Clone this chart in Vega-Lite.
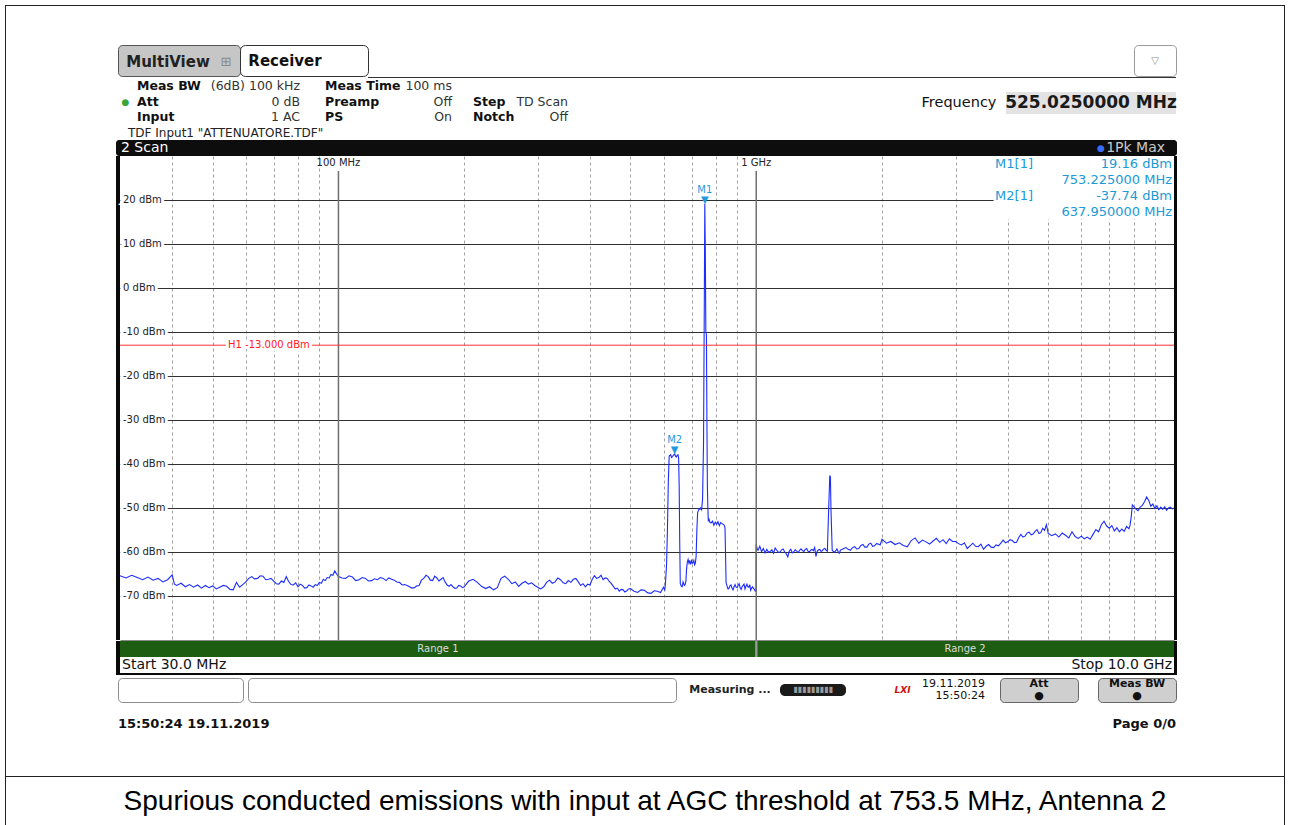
{
"$schema":"https://vega.github.io/schema/vega-lite/v6.json",
"background":"white",
"padding":{"left":5,"top":5,"right":3,"bottom":0},
"autosize":{"type":"pad"},
"config":{"view":{"stroke":null},"font":"DejaVu Sans","concat":{"spacing":0},"text":{"font":"DejaVu Sans"}},
"datasets":{
"trace":[{"f":30,"p":-65.4},{"f":31,"p":-65.9},{"f":32,"p":-65.3},{"f":33,"p":-65.8},{"f":34,"p":-66.3},{"f":35,"p":-65.7},{"f":36,"p":-66.4},{"f":37,"p":-66.0},{"f":38,"p":-66.8},{"f":39,"p":-66.3},{"f":40,"p":-65.2},{"f":40.5,"p":-67.3},{"f":41,"p":-67.6},{"f":42,"p":-67.1},{"f":43,"p":-67.9},{"f":44,"p":-67.4},{"f":45,"p":-68.0},{"f":46,"p":-67.5},{"f":47,"p":-68.2},{"f":48,"p":-67.6},{"f":49,"p":-68.1},{"f":50,"p":-67.7},{"f":51,"p":-68.4},{"f":52,"p":-68.0},{"f":53,"p":-67.6},{"f":54,"p":-67.8},{"f":55,"p":-68.5},{"f":56,"p":-68.6},{"f":57,"p":-66.9},{"f":58,"p":-68.0},{"f":59,"p":-67.4},{"f":60,"p":-66.8},{"f":61,"p":-66.0},{"f":62,"p":-65.6},{"f":63,"p":-66.1},{"f":64,"p":-66.0},{"f":65,"p":-65.4},{"f":66,"p":-65.5},{"f":67,"p":-66.3},{"f":68,"p":-66.2},{"f":69,"p":-66.0},{"f":70,"p":-66.6},{"f":71,"p":-67.2},{"f":72,"p":-67.3},{"f":73,"p":-66.6},{"f":74,"p":-66.9},{"f":75,"p":-65.6},{"f":76,"p":-66.7},{"f":77,"p":-67.4},{"f":78,"p":-67.5},{"f":79,"p":-67.0},{"f":80,"p":-67.9},{"f":81,"p":-67.3},{"f":82,"p":-67.6},{"f":83,"p":-68.2},{"f":84,"p":-68.1},{"f":85,"p":-67.5},{"f":86,"p":-67.7},{"f":87,"p":-68.0},{"f":88,"p":-67.4},{"f":89,"p":-67.6},{"f":90,"p":-66.9},{"f":91,"p":-67.1},{"f":92,"p":-66.2},{"f":93,"p":-66.5},{"f":94,"p":-65.8},{"f":95,"p":-65.9},{"f":96,"p":-65.1},{"f":97,"p":-65.3},{"f":98,"p":-64.3},{"f":99,"p":-65.0},{"f":100,"p":-65.6},
{"f":102,"p":-65.9},{"f":104,"p":-66.0},{"f":106,"p":-65.4},{"f":108,"p":-65.7},{"f":110,"p":-66.5},{"f":112,"p":-66.3},{"f":114,"p":-65.8},{"f":116,"p":-66.0},{"f":118,"p":-66.6},{"f":120,"p":-66.5},{"f":122,"p":-66.1},{"f":124,"p":-66.3},{"f":126,"p":-65.8},{"f":128,"p":-66.0},{"f":130,"p":-66.5},{"f":132,"p":-65.9},{"f":134,"p":-66.2},{"f":136,"p":-66.4},{"f":138,"p":-66.8},{"f":140,"p":-66.9},{"f":142,"p":-67.5},{"f":144,"p":-67.4},{"f":146,"p":-67.6},{"f":148,"p":-67.9},{"f":150,"p":-68.2},{"f":152,"p":-68.1},{"f":154,"p":-67.7},{"f":156,"p":-67.6},{"f":158,"p":-66.4},{"f":160,"p":-66.0},{"f":162,"p":-65.3},{"f":164,"p":-65.6},{"f":166,"p":-66.4},{"f":168,"p":-66.5},{"f":170,"p":-65.5},{"f":172,"p":-65.9},{"f":174,"p":-66.6},{"f":176,"p":-66.2},{"f":178,"p":-65.8},{"f":180,"p":-66.8},{"f":182,"p":-67.5},{"f":184,"p":-67.8},{"f":186,"p":-67.4},{"f":188,"p":-67.9},{"f":190,"p":-68.3},{"f":192,"p":-68.2},{"f":194,"p":-67.6},{"f":196,"p":-67.7},{"f":198,"p":-68.1},{"f":200,"p":-67.9},
{"f":205,"p":-66.6},{"f":210,"p":-66.2},{"f":215,"p":-66.9},{"f":220,"p":-67.8},{"f":225,"p":-68.3},{"f":230,"p":-67.9},{"f":235,"p":-68.6},{"f":240,"p":-68.1},{"f":245,"p":-66.0},{"f":250,"p":-65.5},{"f":255,"p":-66.2},{"f":260,"p":-67.2},{"f":265,"p":-66.8},{"f":270,"p":-67.8},{"f":275,"p":-67.1},{"f":280,"p":-66.7},{"f":285,"p":-67.3},{"f":290,"p":-67.0},{"f":295,"p":-67.6},{"f":300,"p":-68.0},{"f":305,"p":-68.4},{"f":310,"p":-67.9},{"f":315,"p":-66.9},{"f":320,"p":-66.4},{"f":325,"p":-67.1},{"f":330,"p":-66.8},{"f":335,"p":-65.9},{"f":340,"p":-66.3},{"f":345,"p":-67.0},{"f":350,"p":-67.2},{"f":355,"p":-66.5},{"f":360,"p":-66.9},{"f":365,"p":-66.2},{"f":370,"p":-66.0},{"f":375,"p":-66.8},{"f":380,"p":-67.6},{"f":385,"p":-67.2},{"f":390,"p":-67.9},{"f":395,"p":-67.3},{"f":400,"p":-67.5},{"f":405,"p":-66.2},{"f":410,"p":-65.4},{"f":415,"p":-66.0},{"f":420,"p":-65.8},{"f":425,"p":-65.3},{"f":430,"p":-66.3},{"f":435,"p":-65.9},{"f":440,"p":-66.0},{"f":445,"p":-66.7},{"f":450,"p":-67.2},{"f":455,"p":-67.8},{"f":460,"p":-68.4},{"f":465,"p":-68.2},{"f":470,"p":-68.9},{"f":475,"p":-68.5},{"f":480,"p":-68.6},{"f":485,"p":-69.1},{"f":490,"p":-68.8},{"f":495,"p":-68.4},{"f":500,"p":-68.3},
{"f":510,"p":-68.9},{"f":520,"p":-69.2},{"f":530,"p":-68.6},{"f":540,"p":-68.7},{"f":550,"p":-69.3},{"f":560,"p":-69.4},{"f":570,"p":-68.8},{"f":580,"p":-68.9},{"f":590,"p":-69.2},{"f":600,"p":-68.0},{"f":604,"p":-68.6},{"f":606,"p":-67.5},{"f":610,"p":-63.0},{"f":613,"p":-55.0},{"f":616,"p":-44.0},{"f":619,"p":-38.2},{"f":622,"p":-38.0},{"f":624,"p":-37.9},{"f":627,"p":-38.5},{"f":630,"p":-38.3},{"f":634,"p":-38.0},{"f":637.95,"p":-37.74},{"f":641,"p":-38.2},{"f":644,"p":-38.4},{"f":647,"p":-38.0},{"f":650,"p":-37.9},{"f":652,"p":-38.6},{"f":654,"p":-45.0},{"f":656,"p":-58.0},{"f":658,"p":-67.2},{"f":662,"p":-67.8},{"f":665,"p":-67.9},{"f":668,"p":-66.8},{"f":670,"p":-67.1},{"f":673,"p":-67.6},{"f":676,"p":-67.4},{"f":679,"p":-66.5},{"f":681,"p":-64.0},{"f":684,"p":-62.3},{"f":687,"p":-61.7},{"f":690,"p":-62.5},{"f":693,"p":-61.9},{"f":696,"p":-62.8},{"f":700,"p":-62.0},{"f":703,"p":-62.6},{"f":706,"p":-62.4},{"f":709,"p":-61.9},{"f":712,"p":-62.9},{"f":715,"p":-62.5},{"f":718,"p":-61.0},{"f":721,"p":-55.0},{"f":724,"p":-51.0},{"f":727,"p":-50.6},{"f":730,"p":-50.2},{"f":733,"p":-50.3},{"f":736,"p":-50.0},{"f":740,"p":-50.4},{"f":744,"p":-48.0},{"f":748,"p":-35.0},{"f":751,"p":-5.0},{"f":753.225,"p":19.16},{"f":755.5,"p":8.0},{"f":757.5,"p":-10.0},{"f":760,"p":-10.5},{"f":762,"p":-30.0},{"f":764,"p":-45.0},{"f":766,"p":-50.0},{"f":768,"p":-53.0},{"f":771,"p":-52.6},{"f":775,"p":-53.3},{"f":780,"p":-53.4},{"f":786,"p":-53.0},{"f":792,"p":-53.9},{"f":798,"p":-53.2},{"f":804,"p":-53.7},{"f":810,"p":-53.1},{"f":816,"p":-54.0},{"f":822,"p":-53.3},{"f":830,"p":-53.6},{"f":838,"p":-53.9},{"f":842,"p":-54.5},{"f":845,"p":-62.0},{"f":847,"p":-67.0},{"f":852,"p":-67.8},{"f":856,"p":-68.4},{"f":860,"p":-68.3},{"f":865,"p":-67.7},{"f":870,"p":-67.5},{"f":875,"p":-68.2},{"f":880,"p":-68.6},{"f":885,"p":-67.9},{"f":890,"p":-67.4},{"f":895,"p":-68.0},{"f":900,"p":-68.1},{"f":905,"p":-67.6},{"f":910,"p":-67.2},{"f":915,"p":-68.1},{"f":920,"p":-68.5},{"f":925,"p":-67.9},{"f":930,"p":-67.6},{"f":935,"p":-67.3},{"f":940,"p":-68.4},{"f":945,"p":-67.8},{"f":950,"p":-67.3},{"f":955,"p":-67.9},{"f":960,"p":-68.0},{"f":965,"p":-67.4},{"f":970,"p":-68.7},{"f":975,"p":-68.2},{"f":980,"p":-67.9},{"f":985,"p":-68.3},{"f":990,"p":-68.5},{"f":995,"p":-68.9},{"f":999,"p":-68.8},
{"f":1000,"p":-58.3},{"f":1005,"p":-59.2},{"f":1010,"p":-59.6},{"f":1020,"p":-58.7},{"f":1030,"p":-59.9},{"f":1040,"p":-59.2},{"f":1050,"p":-60.2},{"f":1060,"p":-59.4},{"f":1070,"p":-60.0},{"f":1080,"p":-59.9},{"f":1090,"p":-59.5},{"f":1100,"p":-60.3},{"f":1110,"p":-59.1},{"f":1120,"p":-59.6},{"f":1130,"p":-60.1},{"f":1140,"p":-60.0},{"f":1150,"p":-59.5},{"f":1160,"p":-59.3},{"f":1170,"p":-60.0},{"f":1180,"p":-60.4},{"f":1190,"p":-61.1},{"f":1200,"p":-59.8},{"f":1210,"p":-59.4},{"f":1220,"p":-60.2},{"f":1230,"p":-59.9},{"f":1240,"p":-59.5},{"f":1250,"p":-59.8},{"f":1260,"p":-60.1},{"f":1270,"p":-59.6},{"f":1280,"p":-59.3},{"f":1290,"p":-59.7},{"f":1300,"p":-59.9},{"f":1310,"p":-59.4},{"f":1320,"p":-59.2},{"f":1330,"p":-59.8},{"f":1340,"p":-60.0},{"f":1350,"p":-59.6},{"f":1360,"p":-59.4},{"f":1370,"p":-59.7},{"f":1380,"p":-59.0},{"f":1390,"p":-61.0},{"f":1400,"p":-59.8},{"f":1410,"p":-59.5},{"f":1420,"p":-59.4},{"f":1430,"p":-59.9},{"f":1440,"p":-59.7},{"f":1450,"p":-59.3},{"f":1460,"p":-59.2},{"f":1470,"p":-59.6},{"f":1480,"p":-59.8},{"f":1490,"p":-51.0},{"f":1500,"p":-42.6},{"f":1505,"p":-42.9},{"f":1510,"p":-50.5},{"f":1520,"p":-59.6},{"f":1530,"p":-59.9},{"f":1540,"p":-60.0},{"f":1550,"p":-59.7},{"f":1560,"p":-59.3},{"f":1570,"p":-59.9},{"f":1580,"p":-60.3},{"f":1590,"p":-59.6},{"f":1600,"p":-59.5},{"f":1620,"p":-59.2},{"f":1640,"p":-59.0},{"f":1660,"p":-59.4},{"f":1680,"p":-59.6},{"f":1700,"p":-59.0},{"f":1720,"p":-58.8},{"f":1740,"p":-59.3},{"f":1760,"p":-59.2},{"f":1780,"p":-58.5},{"f":1800,"p":-58.3},{"f":1820,"p":-58.9},{"f":1840,"p":-58.9},{"f":1860,"p":-58.2},{"f":1880,"p":-58.0},{"f":1900,"p":-58.7},{"f":1920,"p":-58.6},{"f":1940,"p":-58.1},{"f":1960,"p":-58.2},{"f":1980,"p":-58.4},{"f":2000,"p":-57.1},
{"f":2050,"p":-58.0},{"f":2100,"p":-57.6},{"f":2150,"p":-58.3},{"f":2200,"p":-57.9},{"f":2250,"p":-58.5},{"f":2300,"p":-58.8},{"f":2350,"p":-57.4},{"f":2400,"p":-56.8},{"f":2450,"p":-58.0},{"f":2500,"p":-57.3},{"f":2550,"p":-57.7},{"f":2600,"p":-58.2},{"f":2650,"p":-57.5},{"f":2700,"p":-56.9},{"f":2750,"p":-57.8},{"f":2800,"p":-57.2},{"f":2850,"p":-58.1},{"f":2900,"p":-57.0},{"f":2950,"p":-57.6},{"f":3000,"p":-57.6},{"f":3050,"p":-58.1},{"f":3100,"p":-58.4},{"f":3150,"p":-57.9},{"f":3200,"p":-59.2},{"f":3250,"p":-58.6},{"f":3300,"p":-58.0},{"f":3350,"p":-58.7},{"f":3400,"p":-58.8},{"f":3450,"p":-58.2},{"f":3500,"p":-59.4},{"f":3550,"p":-58.7},{"f":3600,"p":-58.3},{"f":3650,"p":-58.9},{"f":3700,"p":-59.0},{"f":3750,"p":-58.4},{"f":3800,"p":-58.6},{"f":3850,"p":-58.0},{"f":3900,"p":-57.3},{"f":3950,"p":-57.9},{"f":4000,"p":-57.7},{"f":4050,"p":-57.2},{"f":4100,"p":-57.4},{"f":4150,"p":-57.9},{"f":4200,"p":-57.8},{"f":4250,"p":-56.7},{"f":4300,"p":-56.0},{"f":4350,"p":-56.6},{"f":4400,"p":-56.4},{"f":4450,"p":-55.7},{"f":4500,"p":-55.5},{"f":4550,"p":-56.1},{"f":4600,"p":-55.9},{"f":4650,"p":-55.3},{"f":4700,"p":-54.9},{"f":4750,"p":-55.8},{"f":4800,"p":-55.6},{"f":4850,"p":-54.6},{"f":4900,"p":-55.1},{"f":4950,"p":-53.8},{"f":5000,"p":-55.8},
{"f":5100,"p":-56.3},{"f":5200,"p":-55.9},{"f":5300,"p":-56.6},{"f":5400,"p":-55.7},{"f":5500,"p":-56.2},{"f":5600,"p":-56.8},{"f":5700,"p":-55.4},{"f":5800,"p":-56.5},{"f":5900,"p":-56.9},{"f":6000,"p":-56.4},{"f":6100,"p":-57.0},{"f":6200,"p":-56.6},{"f":6300,"p":-57.1},{"f":6400,"p":-56.0},{"f":6500,"p":-54.9},{"f":6600,"p":-55.4},{"f":6700,"p":-53.8},{"f":6800,"p":-53.0},{"f":6900,"p":-54.1},{"f":7000,"p":-54.6},{"f":7100,"p":-54.0},{"f":7200,"p":-55.2},{"f":7300,"p":-54.5},{"f":7400,"p":-55.4},{"f":7500,"p":-54.8},{"f":7600,"p":-55.3},{"f":7700,"p":-54.2},{"f":7800,"p":-54.7},{"f":7850,"p":-53.9},{"f":7900,"p":-52.0},{"f":7950,"p":-49.3},{"f":8000,"p":-49.6},{"f":8100,"p":-50.2},{"f":8200,"p":-50.6},{"f":8300,"p":-49.8},{"f":8400,"p":-49.4},{"f":8500,"p":-48.6},{"f":8600,"p":-47.5},{"f":8700,"p":-48.3},{"f":8800,"p":-49.6},{"f":8900,"p":-49.1},{"f":9000,"p":-50.1},{"f":9100,"p":-49.5},{"f":9200,"p":-50.4},{"f":9300,"p":-49.8},{"f":9400,"p":-50.3},{"f":9500,"p":-49.7},{"f":9600,"p":-50.5},{"f":9700,"p":-50.0},{"f":9800,"p":-49.8},{"f":9900,"p":-50.2},{"f":10000,"p":-50.0}],
"markers":[{"id":"M1","rid":"M1[1]","f":753.225,"p":19.16,"lv":"19.16 dBm","fq":"753.225000 MHz"},{"id":"M2","rid":"M2[1]","f":637.95,"p":-37.74,"lv":"-37.74 dBm","fq":"637.950000 MHz"}]
},
"hconcat":[
 {"width":1,"height":820,"view":{"fill":"#222","stroke":null},"data":{"values":[{}]},"mark":{"type":"text","text":"","fontSize":0}},
 {"vconcat":[
  {"width":1278,"height":1,"view":{"fill":"#222","stroke":null},"data":{"values":[{}]},"mark":{"type":"text","text":"","fontSize":0}},
  {"hconcat":[
   {"width":110,"height":769,"data":{"values":[{}]},"mark":{"type":"text","text":"","fontSize":0}},
   {"vconcat":[
    {"width":1060,"height":38,"data":{"values":[{}]},"mark":{"type":"text","text":"","fontSize":0}},
    {"vconcat":[
     {"hconcat":[
      {"width":2,"height":31,"data":{"values":[{}]},"mark":{"type":"text","text":"","fontSize":0}},
      {"width":122,"height":31,"view":{"fill":"#c6c6c6","stroke":"#555","cornerRadius":4},"data":{"values":[{"t":"MultiView","i":"⊞"}]},"layer":[
        {"mark":{"type":"text","fontSize":15,"fontWeight":"bold","color":"#222","dx":-11,"dy":1},"encoding":{"text":{"field":"t"}}},
        {"mark":{"type":"text","fontSize":13,"color":"#8a8a8a","dx":47,"dy":1},"encoding":{"text":{"field":"i"}}}
      ]},
      {"width":128,"height":31,"view":{"fill":"white","stroke":"#333","cornerRadius":5},"data":{"values":[{"t":"Receiver"}]},"mark":{"type":"text","fontSize":15,"fontWeight":"bold","color":"#111","dx":-19},"encoding":{"text":{"field":"t"}}},
      {"width":766,"height":31,"data":{"values":[{}]},"mark":{"type":"text","text":"","fontSize":0}},
      {"width":42,"height":31,"view":{"fill":"white","stroke":"#9a9a9a","cornerRadius":4},"data":{"values":[{"t":"▽"}]},"mark":{"type":"text","fontSize":10,"color":"#888"},"encoding":{"text":{"field":"t"}}}
     ],"spacing":0,"bounds":"flush"},
     {"hconcat":[
      {"width":252,"height":1,"data":{"values":[{}]},"mark":{"type":"text","text":"","fontSize":0}},
      {"width":808,"height":1,"view":{"fill":"#333","stroke":null},"data":{"values":[{}]},"mark":{"type":"text","text":"","fontSize":0}}
     ],"spacing":0,"bounds":"flush"}
    ],"spacing":0},
    {"vconcat":[
     {"hconcat":[
      {"width":21,"height":47,"data":{"values":[{"row":1,"t":"●"}]},"mark":{"type":"text","fontSize":9,"color":"#3aa63a","dx":-1},"encoding":{"y":{"field":"row","type":"ordinal","scale":{"type":"point","domain":[0,1,2],"padding":0.5},"axis":null},"text":{"field":"t"}}},
      {"width":163,"height":47,"data":{"values":[{"row":0,"label":"Meas BW","value":"(6dB) 100 kHz"},{"row":1,"label":"Att","value":"0 dB"},{"row":2,"label":"Input","value":"1 AC"}]},"layer":[
       {"mark":{"type":"text","align":"left","fontSize":12.5,"fontWeight":"bold","color":"#111"},"encoding":{"x":{"datum":0,"scale":{"domain":[0,1]},"axis":null},"y":{"field":"row","type":"ordinal","scale":{"type":"point","domain":[0,1,2],"padding":0.5},"axis":null},"text":{"field":"label"}}},
       {"mark":{"type":"text","align":"right","fontSize":12.5,"color":"#333"},"encoding":{"x":{"datum":1},"y":{"field":"row","type":"ordinal"},"text":{"field":"value"}}}
      ]},
      {"width":25,"height":47,"data":{"values":[{}]},"mark":{"type":"text","text":"","fontSize":0}},
      {"width":127,"height":47,"data":{"values":[{"row":0,"label":"Meas Time","value":"100 ms"},{"row":1,"label":"Preamp","value":"Off"},{"row":2,"label":"PS","value":"On"}]},"layer":[
       {"mark":{"type":"text","align":"left","fontSize":12.5,"fontWeight":"bold","color":"#111"},"encoding":{"x":{"datum":0,"scale":{"domain":[0,1]},"axis":null},"y":{"field":"row","type":"ordinal","scale":{"type":"point","domain":[0,1,2],"padding":0.5},"axis":null},"text":{"field":"label"}}},
       {"mark":{"type":"text","align":"right","fontSize":12.5,"color":"#333"},"encoding":{"x":{"datum":1},"y":{"field":"row","type":"ordinal"},"text":{"field":"value"}}}
      ]},
      {"width":21,"height":47,"data":{"values":[{}]},"mark":{"type":"text","text":"","fontSize":0}},
      {"width":95,"height":47,"data":{"values":[{"row":1,"label":"Step","value":"TD Scan"},{"row":2,"label":"Notch","value":"Off"}]},"layer":[
       {"mark":{"type":"text","align":"left","fontSize":12.5,"fontWeight":"bold","color":"#111"},"encoding":{"x":{"datum":0,"scale":{"domain":[0,1]},"axis":null},"y":{"field":"row","type":"ordinal","scale":{"type":"point","domain":[0,1,2],"padding":0.5},"axis":null},"text":{"field":"label"}}},
       {"mark":{"type":"text","align":"right","fontSize":12.5,"color":"#333"},"encoding":{"x":{"datum":1},"y":{"field":"row","type":"ordinal"},"text":{"field":"value"}}}
      ]},
      {"width":344,"height":47,"data":{"values":[{}]},"mark":{"type":"text","text":"","fontSize":0}},
      {"vconcat":[
       {"width":264,"height":14,"data":{"values":[{}]},"mark":{"type":"text","text":"","fontSize":0}},
       {"hconcat":[
        {"width":94,"height":22,"data":{"values":[{"t":"Frequency"}]},"mark":{"type":"text","fontSize":14.5,"color":"#111"},"encoding":{"text":{"field":"t"}}},
        {"width":170,"height":22,"view":{"fill":"#e3e3e3","stroke":null},"data":{"values":[{"t":"525.0250000 MHz"}]},"mark":{"type":"text","fontSize":17,"fontWeight":"bold","color":"#1a1a1a"},"encoding":{"text":{"field":"t"}}}
       ],"spacing":0,"bounds":"flush"}
      ],"spacing":0}
     ],"spacing":0},
     {"width":1060,"height":15,"data":{"values":[{"t":"TDF Input1 \"ATTENUATORE.TDF\""}]},"mark":{"type":"text","align":"left","fontSize":12,"color":"#222","dx":12},"encoding":{"x":{"datum":0,"scale":{"domain":[0,1]},"axis":null},"text":{"field":"t"}}}
    ],"spacing":0},
    {"vconcat":[
     {"width":1061,"height":16,"view":{"fill":"#0d0d0d","stroke":null,"cornerRadius":3},"layer":[
      {"data":{"values":[{"t":"2 Scan"}]},"mark":{"type":"text","align":"left","fontSize":14,"color":"white","dx":5},"encoding":{"x":{"datum":0,"scale":{"domain":[0,1]},"axis":null},"text":{"field":"t"}}},
      {"data":{"values":[{"t":"1Pk Max"}]},"mark":{"type":"text","align":"right","fontSize":14,"color":"#c8c8c8","dx":-12},"encoding":{"x":{"datum":1},"text":{"field":"t"}}},
      {"data":{"values":[{"t":"●"}]},"mark":{"type":"text","fontSize":9,"color":"#3a6bff","dx":-76},"encoding":{"x":{"datum":1},"text":{"field":"t"}}}
     ]},
     {"hconcat":[
      {"width":4,"height":484,"view":{"fill":"#0a0a0a","stroke":null},"data":{"values":[{}]},"mark":{"type":"text","text":"","fontSize":0}},
      {"width":1054,"height":484,"layer":[
        {"data":{"name":"trace"},"mark":{"type":"line","color":"#1c2cff","strokeWidth":1.1},
         "encoding":{
          "x":{"field":"f","type":"quantitative","scale":{"type":"log","domain":[30,10000],"nice":false},
               "axis":{"title":null,"labels":false,"ticks":false,"domain":true,"domainColor":"#8a8a8a","values":[40,50,60,70,80,90,200,300,400,500,600,700,800,900,2000,3000,4000,5000,6000,7000,8000,9000],"grid":true,"gridColor":"#a0a0a0","gridDash":[3,3],"gridWidth":1}},
          "y":{"field":"p","type":"quantitative","scale":{"domain":[-80,30],"nice":false,"zero":false},
               "axis":{"title":null,"labels":false,"ticks":false,"domain":false,"values":[20,10,0,-10,-20,-30,-40,-50,-60,-70],"grid":true,"gridColor":"#303030","gridWidth":1}}}},
        {"data":{"values":[{"f":100},{"f":1000}]},"mark":{"type":"rule","color":"#707070","strokeWidth":1.5},"encoding":{"x":{"field":"f","type":"quantitative"},"y":{"datum":26.6},"y2":{"datum":-80}}},
        {"data":{"values":[{}]},"mark":{"type":"rect","fill":"white"},"encoding":{"x":{"datum":3700},"x2":{"datum":10000},"y":{"datum":30},"y2":{"datum":15.7}}},
        {"data":{"values":[{"name":"H1","level":-13,"label":"H1 -13.000 dBm"}]},"mark":{"type":"rule","color":"#ff3030","strokeWidth":1},"encoding":{"y":{"field":"level","type":"quantitative"}}},
        {"data":{"values":[{"name":"H1","level":-13,"label":"H1 -13.000 dBm"}]},"mark":{"type":"text","align":"left","fontSize":10,"fill":"white","stroke":"white","strokeWidth":6},"encoding":{"x":{"datum":54.4},"y":{"field":"level","type":"quantitative"},"text":{"field":"label"}}},
        {"data":{"values":[{"name":"H1","level":-13,"label":"H1 -13.000 dBm"}]},"mark":{"type":"text","align":"left","fontSize":10,"color":"#ff2020"},"encoding":{"x":{"datum":54.4},"y":{"field":"level","type":"quantitative"},"text":{"field":"label"}}},
        {"data":{"values":[{"lvl":20,"label":"20 dBm"},{"lvl":10,"label":"10 dBm"},{"lvl":0,"label":"0 dBm"},{"lvl":-10,"label":"-10 dBm"},{"lvl":-20,"label":"-20 dBm"},{"lvl":-30,"label":"-30 dBm"},{"lvl":-40,"label":"-40 dBm"},{"lvl":-50,"label":"-50 dBm"},{"lvl":-60,"label":"-60 dBm"},{"lvl":-70,"label":"-70 dBm"}]},"layer":[
         {"mark":{"type":"text","align":"left","fontSize":10,"fill":"white","stroke":"white","strokeWidth":6,"dx":3},"encoding":{"x":{"datum":30},"y":{"field":"lvl","type":"quantitative"},"text":{"field":"label"}}},
         {"mark":{"type":"text","align":"left","fontSize":10,"color":"#222","dx":3},"encoding":{"x":{"datum":30},"y":{"field":"lvl","type":"quantitative"},"text":{"field":"label"}}}
        ]},
        {"data":{"values":[{"f":100,"label":"100 MHz"},{"f":1000,"label":"1 GHz"}]},"mark":{"type":"text","baseline":"top","fontSize":10,"color":"#222","dy":2},"encoding":{"x":{"field":"f","type":"quantitative"},"y":{"datum":30},"text":{"field":"label"}}},
        {"data":{"name":"markers"},"layer":[
         {"mark":{"type":"text","text":"▼","fontSize":10,"color":"#1e9be0","dy":-4},"encoding":{"x":{"field":"f","type":"quantitative"},"y":{"field":"p","type":"quantitative"}}},
         {"mark":{"type":"text","fontSize":10,"color":"#1e9be0","dy":-14},"encoding":{"x":{"field":"f","type":"quantitative"},"y":{"field":"p","type":"quantitative"},"text":{"field":"id"}}}
        ]},
        {"data":{"name":"markers"},"transform":[{"filter":"datum.id=='M1'"}],"layer":[
         {"mark":{"type":"text","align":"left","fontSize":13,"color":"#1a9ad6"},"encoding":{"x":{"datum":3730},"y":{"datum":28.2},"text":{"field":"rid"}}},
         {"mark":{"type":"text","align":"right","fontSize":13,"color":"#1a9ad6","dx":-2},"encoding":{"x":{"datum":10000},"y":{"datum":28.2},"text":{"field":"lv"}}},
         {"mark":{"type":"text","align":"right","fontSize":13,"color":"#1a9ad6","dx":-2,"dy":16},"encoding":{"x":{"datum":10000},"y":{"datum":28.2},"text":{"field":"fq"}}}
        ]},
        {"data":{"name":"markers"},"transform":[{"filter":"datum.id=='M2'"}],"layer":[
         {"mark":{"type":"text","align":"left","fontSize":13,"color":"#1a9ad6"},"encoding":{"x":{"datum":3730},"y":{"datum":20.9},"text":{"field":"rid"}}},
         {"mark":{"type":"text","align":"right","fontSize":13,"color":"#1a9ad6","dx":-2},"encoding":{"x":{"datum":10000},"y":{"datum":20.9},"text":{"field":"lv"}}},
         {"mark":{"type":"text","align":"right","fontSize":13,"color":"#1a9ad6","dx":-2,"dy":16},"encoding":{"x":{"datum":10000},"y":{"datum":20.9},"text":{"field":"fq"}}}
        ]}
      ]},
      {"width":3,"height":484,"view":{"fill":"#0a0a0a","stroke":null},"data":{"values":[{}]},"mark":{"type":"text","text":"","fontSize":0}}
     ],"spacing":0,"bounds":"flush"},
     {"hconcat":[
      {"width":4,"height":16,"view":{"fill":"#0a0a0a","stroke":null},"data":{"values":[{}]},"mark":{"type":"text","text":"","fontSize":0}},
      {"width":1054,"height":16,"data":{"values":[{"name":"Range 1","start":30,"stop":1000,"mid":173},{"name":"Range 2","start":1000,"stop":10000,"mid":3162}]},"layer":[
        {"mark":{"type":"rect","fill":"#1d5d12"},"encoding":{"x":{"field":"start","type":"quantitative","scale":{"type":"log","domain":[30,10000],"nice":false},"axis":null},"x2":{"field":"stop"},"y":{"datum":0,"scale":{"domain":[0,1]},"axis":null},"y2":{"datum":1}}},
        {"mark":{"type":"text","fontSize":10,"color":"#dcdcdc"},"encoding":{"x":{"field":"mid","type":"quantitative"},"text":{"field":"name"}}},
        {"data":{"values":[{"f1":994,"f2":1007}]},"mark":{"type":"rect","fill":"#9a9a9a"},"encoding":{"x":{"field":"f1","type":"quantitative"},"x2":{"field":"f2"},"y":{"datum":0},"y2":{"datum":1}}}
      ]},
      {"width":3,"height":16,"view":{"fill":"#0a0a0a","stroke":null},"data":{"values":[{}]},"mark":{"type":"text","text":"","fontSize":0}}
     ],"spacing":0,"bounds":"flush"},
     {"hconcat":[
      {"width":4,"height":16,"view":{"fill":"#0a0a0a","stroke":null},"data":{"values":[{}]},"mark":{"type":"text","text":"","fontSize":0}},
      {"width":1054,"height":16,"layer":[
        {"data":{"values":[{"f":30,"t":"Start 30.0 MHz"}]},"mark":{"type":"text","align":"left","fontSize":14,"color":"#111","dx":2},"encoding":{"x":{"field":"f","type":"quantitative","scale":{"type":"log","domain":[30,10000],"nice":false},"axis":null},"text":{"field":"t"}}},
        {"data":{"values":[{"f":10000,"t":"Stop 10.0 GHz"}]},"mark":{"type":"text","align":"right","fontSize":14,"color":"#111","dx":-2},"encoding":{"x":{"field":"f","type":"quantitative"},"text":{"field":"t"}}}
      ]},
      {"width":3,"height":16,"view":{"fill":"#0a0a0a","stroke":null},"data":{"values":[{}]},"mark":{"type":"text","text":"","fontSize":0}}
     ],"spacing":0,"bounds":"flush"},
     {"width":1061,"height":2,"view":{"fill":"#0a0a0a","stroke":null},"data":{"values":[{}]},"mark":{"type":"text","text":"","fontSize":0}}
    ],"spacing":0},
    {"width":1060,"height":2,"data":{"values":[{}]},"mark":{"type":"text","text":"","fontSize":0}},
    {"hconcat":[
     {"width":2,"height":24,"data":{"values":[{}]},"mark":{"type":"text","text":"","fontSize":0}},
     {"width":125,"height":24,"view":{"fill":"white","stroke":"#8c8c8c","cornerRadius":4},"data":{"values":[{}]},"mark":{"type":"text","text":"","fontSize":0}},
     {"width":5,"height":24,"data":{"values":[{}]},"mark":{"type":"text","text":"","fontSize":0}},
     {"width":428,"height":24,"view":{"fill":"white","stroke":"#8c8c8c","cornerRadius":4},"data":{"values":[{}]},"mark":{"type":"text","text":"","fontSize":0}},
     {"width":9,"height":24,"data":{"values":[{}]},"mark":{"type":"text","text":"","fontSize":0}},
     {"width":90,"height":24,"data":{"values":[{"t":"Measuring ..."}]},"mark":{"type":"text","fontSize":11,"fontWeight":"bold","color":"#222"},"encoding":{"text":{"field":"t"}}},
     {"width":5,"height":24,"data":{"values":[{}]},"mark":{"type":"text","text":"","fontSize":0}},
     {"width":66,"height":24,"data":{"values":[{"t":"▮▮▮▮▮▮▮▮▮"}]},"layer":[
      {"mark":{"type":"rect","fill":"#1a1a1a","cornerRadius":5},"encoding":{"x":{"datum":0,"scale":{"domain":[0,1]},"axis":null},"x2":{"datum":1},"y":{"datum":0.25,"scale":{"domain":[0,1]},"axis":null},"y2":{"datum":0.75}}},
      {"mark":{"type":"text","fontSize":8,"color":"#9a9a9a"},"encoding":{"text":{"field":"t"}}}
     ]},
     {"width":47,"height":24,"data":{"values":[{}]},"mark":{"type":"text","text":"","fontSize":0}},
     {"width":19,"height":24,"data":{"values":[{"t":"LXI"}]},"mark":{"type":"text","fontSize":9,"fontWeight":"bold","fontStyle":"italic","color":"#d01010"},"encoding":{"text":{"field":"t"}}},
     {"width":73,"height":24,"data":{"values":[{"row":0,"t":"19.11.2019"},{"row":1,"t":"15:50:24"}]},"mark":{"type":"text","align":"right","fontSize":11,"color":"#111"},"encoding":{"x":{"datum":1,"scale":{"domain":[0,1]},"axis":null},"y":{"field":"row","type":"ordinal","scale":{"type":"point","domain":[0,1],"padding":0.5},"axis":null},"text":{"field":"t"}}},
     {"width":15,"height":24,"data":{"values":[{}]},"mark":{"type":"text","text":"","fontSize":0}},
     {"width":78,"height":24,"view":{"fill":"#cfcfcf","stroke":"#666","cornerRadius":4},"data":{"values":[{"row":0,"t":"Att"},{"row":1,"t":"●"}]},"mark":{"type":"text","fontSize":11,"fontWeight":"bold","color":"#111"},"encoding":{"y":{"field":"row","type":"ordinal","scale":{"type":"point","domain":[0,1],"padding":0.5},"axis":null},"text":{"field":"t"}}},
     {"width":20,"height":24,"data":{"values":[{}]},"mark":{"type":"text","text":"","fontSize":0}},
     {"width":78,"height":24,"view":{"fill":"#cfcfcf","stroke":"#666","cornerRadius":4},"data":{"values":[{"row":0,"t":"Meas BW"},{"row":1,"t":"●"}]},"mark":{"type":"text","fontSize":11,"fontWeight":"bold","color":"#111"},"encoding":{"y":{"field":"row","type":"ordinal","scale":{"type":"point","domain":[0,1],"padding":0.5},"axis":null},"text":{"field":"t"}}}
    ],"spacing":0,"bounds":"flush"},
    {"width":1060,"height":13,"data":{"values":[{}]},"mark":{"type":"text","text":"","fontSize":0}},
    {"width":1060,"height":16,"layer":[
     {"data":{"values":[{"t":"15:50:24  19.11.2019"}]},"mark":{"type":"text","align":"left","fontSize":13,"fontWeight":"bold","color":"#111","dx":2},"encoding":{"x":{"datum":0,"scale":{"domain":[0,1]},"axis":null},"text":{"field":"t"}}},
     {"data":{"values":[{"t":"Page 0/0"}]},"mark":{"type":"text","align":"right","fontSize":13,"fontWeight":"bold","color":"#111"},"encoding":{"x":{"datum":1},"text":{"field":"t"}}}
    ]},
    {"width":1060,"height":44,"data":{"values":[{}]},"mark":{"type":"text","text":"","fontSize":0}}
   ],"spacing":0}
  ],"spacing":0},
  {"width":1278,"height":1,"view":{"fill":"#222","stroke":null},"data":{"values":[{}]},"mark":{"type":"text","text":"","fontSize":0}},
  {"width":1278,"height":49,"data":{"values":[{"t":"Spurious conducted emissions with input at AGC threshold at 753.5 MHz, Antenna 2"}]},"mark":{"type":"text","fontSize":28,"font":"Liberation Sans","color":"#000"},"encoding":{"text":{"field":"t"}}}
 ],"spacing":0},
 {"width":1,"height":820,"view":{"fill":"#222","stroke":null},"data":{"values":[{}]},"mark":{"type":"text","text":"","fontSize":0}}
],
"spacing":0
}
